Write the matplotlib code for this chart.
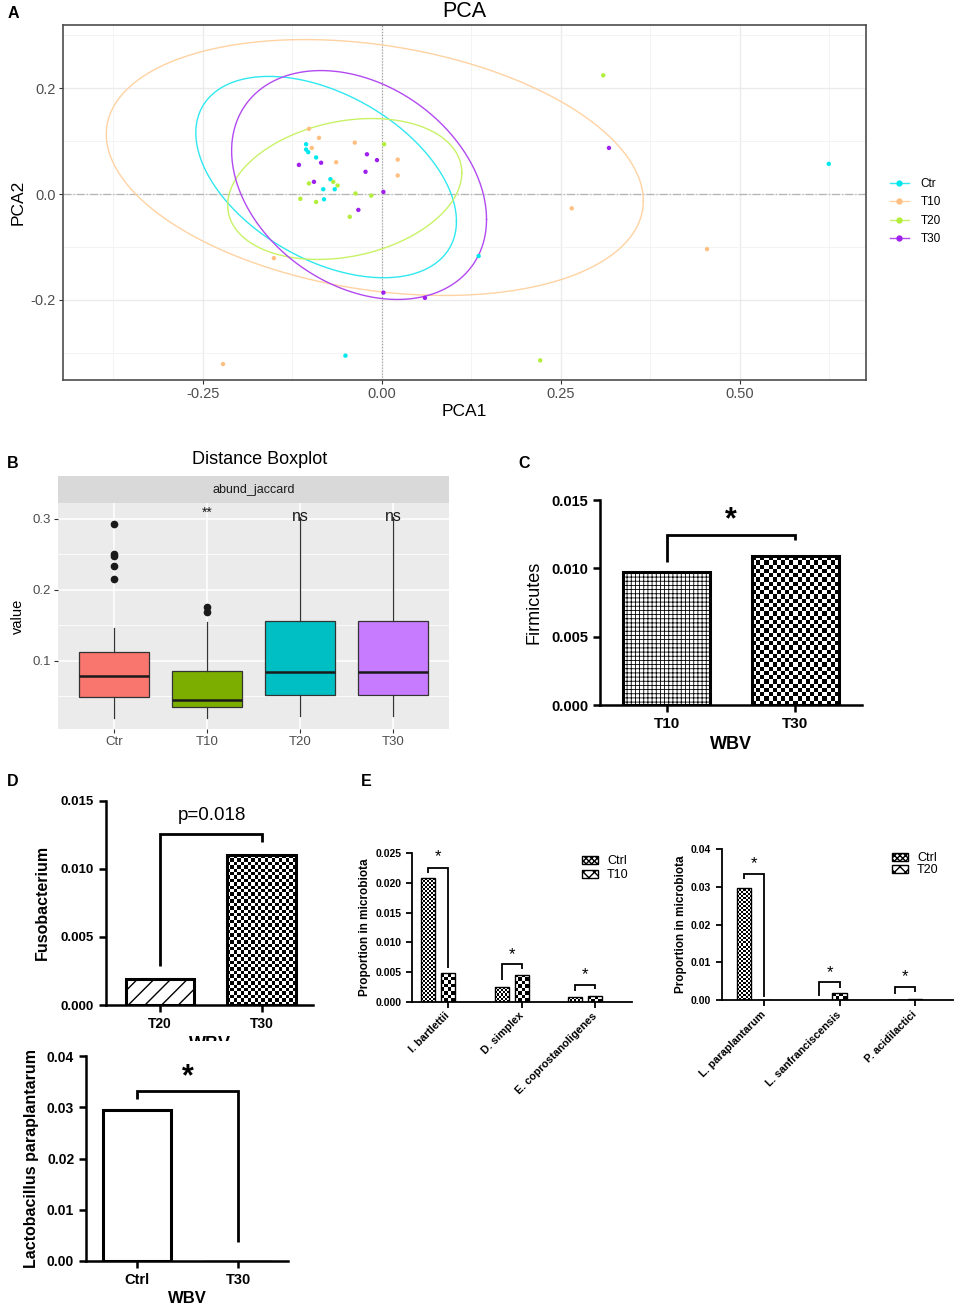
import numpy as np
import matplotlib
matplotlib.use("Agg")
import matplotlib.pyplot as plt
from matplotlib.patches import Patch, Rectangle
from matplotlib.lines import Line2D

plt.rcParams['font.family'] = ['Liberation Sans', 'DejaVu Sans']

# ---------------- data ----------------
# A: PCA scores
pca_groups = ['Ctr', 'T10', 'T20', 'T30']
ctr_x = [-0.106, -0.106, -0.103, -0.092, -0.072, -0.082, -0.066, -0.081, -0.051, 0.135, 0.624]
ctr_y = [0.094, 0.084, 0.079, 0.069, 0.028, 0.009, 0.009, -0.010, -0.305, -0.117, 0.057]
t10_x = [-0.102, -0.088, -0.098, -0.038, -0.064, 0.022, 0.022, -0.151, -0.222, 0.265, 0.454]
t10_y = [0.123, 0.106, 0.087, 0.097, 0.060, 0.065, 0.035, -0.121, -0.321, -0.027, -0.104]
t20_x = [0.003, -0.102, -0.068, -0.062, -0.114, -0.092, -0.037, -0.015, -0.045, 0.309, 0.221]
t20_y = [0.094, 0.020, 0.023, 0.016, -0.009, -0.015, 0.001, -0.003, -0.043, 0.224, -0.314]
t30_x = [-0.021, -0.007, -0.085, -0.116, -0.023, -0.095, 0.002, -0.033, 0.002, 0.060, 0.317]
t30_y = [0.075, 0.064, 0.059, 0.055, 0.042, 0.023, 0.004, -0.030, -0.186, -0.196, 0.087]
# ellipses: centre, half extent in x / y, correlation
ell_cx = [-0.078, -0.010, -0.052, -0.032]
ell_cy = [0.032, 0.050, 0.0095, 0.017]
ell_sx = [0.182, 0.375, 0.1635, 0.178]
ell_sy = [0.190, 0.2415, 0.133, 0.216]
ell_rho = [-0.44, -0.26, 0.23, -0.30]

# B: distance boxplot
box_cats = ['Ctr', 'T10', 'T20', 'T30']
box_q1 = [0.048, 0.034, 0.051, 0.051]
box_med = [0.078, 0.044, 0.084, 0.084]
box_q3 = [0.112, 0.086, 0.156, 0.156]
box_lo = [0.019, 0.019, 0.022, 0.022]
box_hi = [0.146, 0.155, 0.303, 0.303]
box_fliers = [[0.293, 0.251, 0.247, 0.233, 0.215], [0.175, 0.168], [], []]
box_sig = ['', '**', 'ns', 'ns']
box_sig_y = [0.0, 0.309, 0.303, 0.303]

# C: Firmicutes
c_groups = ['T10', 'T30']
c_vals = [0.00976, 0.0109]
c_br, c_lows, c_star = 0.01244, [0.0105, 0.0121], 0.0135

# D: Fusobacterium
d_groups = ['T20', 'T30']
d_vals = [0.0019, 0.01098]
d_br, d_lows, d_text = 0.01255, [0.0029, 0.0120], 0.01395

# bottom left: Lactobacillus paraplantarum
l_groups = ['Ctrl', 'T30']
l_vals = [0.0295, 0.00005]
l_br, l_lows, l_star = 0.0332, [0.0317, 0.0038], 0.0359

# E left
e1_species = ['I. bartlettii', 'D. simplex', 'E. coprostanoligenes']
e1_ctrl = [0.0208, 0.00247, 0.00074]
e1_t10 = [0.00488, 0.00455, 0.00096]
e1_br = [0.02245, 0.0063, 0.0028]
e1_lo_l = [0.0216, 0.00365, 0.00185]
e1_lo_r = [0.0056, 0.00545, 0.0021]
e1_star = [0.0244, 0.0079, 0.0045]

# E right
e2_species = ['L. paraplantarum', 'L. sanfranciscensis', 'P. acidilactici']
e2_ctrl = [0.0298, 0.00005, 0.00005]
e2_t20 = [0.0002, 0.0019, 0.0004]
e2_br = [0.0335, 0.00475, 0.0035]
e2_lo_l = [0.0322, 0.00114, 0.00167]
e2_lo_r = [0.0010, 0.0032, 0.00228]
e2_star = [0.0362, 0.0074, 0.0062]

# ---------------- helpers ----------------
W, H = 957, 1308
fig = plt.figure(figsize=(W / 100, H / 100), dpi=100)


def add_ax(l, t, r, b):
    return fig.add_axes([l / W, 1 - b / H, (r - l) / W, (b - t) / H])


def prism(ax, lw, tl=4):
    ax.spines[['top', 'right']].set_visible(False)
    ax.spines[['left', 'bottom']].set_linewidth(lw)
    ax.tick_params(width=lw, length=tl, direction='out')


def checker(ax, bar, cell):
    x0, y0 = bar.get_x(), bar.get_y()
    x1, y1 = x0 + bar.get_width(), y0 + bar.get_height()
    (px0, py0), (px1, py1) = ax.transData.transform([(x0, y0), (x1, y1)])
    nx = max(1, int(round(abs(px1 - px0) / cell)))
    ny = max(1, int(round(abs(py1 - py0) / cell)))
    board = np.indices((ny, nx)).sum(axis=0) % 2
    im = ax.imshow(board, cmap='gray', extent=(x0, x1, y0, y1), aspect='auto',
                   interpolation='nearest', zorder=1.5)
    im.set_clip_path(bar)


def bracket(ax, xl, xr, top, lo_l, lo_r, lw):
    ax.plot([xl, xl, xr, xr], [lo_l, top, top, lo_r], color='black', lw=lw,
            solid_joinstyle='miter', solid_capstyle='butt', clip_on=False, zorder=3)


def letter(x, y, s):
    fig.text(x / W, 1 - y / H, s, fontsize=11.5, fontweight='bold', ha='center', va='center')


# ---------------- A: PCA ----------------
axA = add_ax(63, 25, 866, 380)
axA.set_xlim(-0.4455, 0.676)
axA.set_ylim(-0.351, 0.319)
pt_cols = ['#00E8EE', '#FFBF80', '#B2EE3A', '#9F1FEE']
ell_cols = ['#30E8F0', '#FFD2A2', '#C8F266', '#B24AF0']
xs = [ctr_x, t10_x, t20_x, t30_x]
ys = [ctr_y, t10_y, t20_y, t30_y]
t = np.linspace(0, 2 * np.pi, 300)
for i in range(4):
    ex = ell_cx[i] + ell_sx[i] * np.cos(t)
    ey = ell_cy[i] + ell_sy[i] * (ell_rho[i] * np.cos(t) + np.sqrt(1 - ell_rho[i] ** 2) * np.sin(t))
    axA.plot(ex, ey, color=ell_cols[i], lw=1.0, zorder=2)
    axA.scatter(xs[i], ys[i], s=10, color=pt_cols[i], edgecolors='none', zorder=3)
axA.axvline(0, color='#9A9A9A', lw=0.8, ls=':', zorder=1)
axA.axhline(0, color='#B5B5B5', lw=0.9, ls='-.', zorder=1)
axA.set_xticks([-0.25, 0, 0.25, 0.5], labels=['-0.25', '0.00', '0.25', '0.50'])
axA.set_yticks([-0.2, 0, 0.2], labels=['-0.2', '0.0', '0.2'])
axA.set_xticks([-0.375, -0.125, 0.125, 0.375, 0.625], minor=True)
axA.set_yticks([-0.3, -0.1, 0.1, 0.3], minor=True)
axA.grid(which='major', color='#EBEBEB', lw=1.0)
axA.grid(which='minor', color='#F3F3F3', lw=0.7)
axA.set_axisbelow(True)
axA.tick_params(which='major', length=3, color='#333333', labelcolor='#4D4D4D', labelsize=10.5, pad=2)
axA.tick_params(which='minor', length=0)
for s in axA.spines.values():
    s.set_color('#4D4D4D')
    s.set_linewidth(1.2)
axA.set_xlabel('PCA1', fontsize=12.5, labelpad=2)
axA.set_ylabel('PCA2', fontsize=12.5, labelpad=4)
axA.set_title('PCA', fontsize=15.5, pad=6)
handles = [Line2D([], [], color=ell_cols[i], lw=1.0, marker='o', ms=3.5,
                  markerfacecolor=pt_cols[i], markeredgecolor=pt_cols[i], label=g)
           for i, g in enumerate(pca_groups)]
fig.legend(handles=handles, loc='center left', bbox_to_anchor=(890 / W, 1 - 211.5 / H),
           frameon=False, fontsize=8.5, handlelength=1.6, handletextpad=1.0,
           labelspacing=0.55, borderpad=0, borderaxespad=0)
letter(13, 13, 'A')

# ---------------- B: boxplot ----------------
axB = add_ax(58.3, 503.3, 449, 729.3)
axB.set_facecolor('#EBEBEB')
stats = [dict(label=box_cats[i], q1=box_q1[i], med=box_med[i], q3=box_q3[i],
              whislo=box_lo[i], whishi=box_hi[i], fliers=box_fliers[i]) for i in range(4)]
bp = axB.bxp(stats, positions=[1, 2, 3, 4], widths=0.75, patch_artist=True, showcaps=False,
             boxprops=dict(edgecolor='#333333', linewidth=0.9),
             medianprops=dict(color='#1A1A1A', linewidth=1.8),
             whiskerprops=dict(color='#333333', linewidth=0.9),
             flierprops=dict(marker='o', markerfacecolor='#1A1A1A', markeredgecolor='#1A1A1A', markersize=4.5))
for patch, c in zip(bp['boxes'], ['#F8766D', '#7CAE00', '#00BFC4', '#C77CFF']):
    patch.set_facecolor(c)
for i in range(4):
    if box_sig[i]:
        axB.text(i + 1, box_sig_y[i], box_sig[i], ha='center', va='center',
                 fontsize=10 if box_sig[i] == '**' else 11.5, color='#1A1A1A')
axB.set_xlim(0.4, 4.6)
axB.set_ylim(0.0031, 0.322)
axB.set_yticks([0.1, 0.2, 0.3], labels=['0.1', '0.2', '0.3'])
axB.set_yticks([0.05, 0.15, 0.25], minor=True)
axB.set_xticks([1, 2, 3, 4], labels=box_cats)
axB.grid(which='major', color='white', lw=1.1)
axB.grid(which='minor', axis='y', color='white', lw=0.55)
axB.set_axisbelow(True)
axB.tick_params(which='major', length=3, color='#333333', labelcolor='#4D4D4D', labelsize=9.5, pad=2)
axB.tick_params(which='minor', length=0)
for s in axB.spines.values():
    s.set_visible(False)
axB.set_ylabel('value', fontsize=10.5, labelpad=6)
strip = add_ax(58.3, 476, 449, 503.3)
strip.set_facecolor('#D9D9D9')
strip.set_xticks([])
strip.set_yticks([])
for s in strip.spines.values():
    s.set_visible(False)
strip.text(0.5, 0.5, 'abund_jaccard', transform=strip.transAxes, ha='center', va='center',
           fontsize=9, color='#1A1A1A')
fig.text(260 / W, 1 - 459 / H, 'Distance Boxplot', fontsize=13, ha='center', va='center')
letter(13, 463, 'B')

# ---------------- C: Firmicutes ----------------
axC = add_ax(600, 500, 861.7, 705)
axC.set_xlim(-0.52, 1.515)
axC.set_ylim(0, 0.015)
plt.rcParams['hatch.linewidth'] = 0.6
barsC = axC.bar(range(2), c_vals, width=0.675, facecolor='white', edgecolor='black',
                linewidth=2.2, zorder=2)
barsC[0].set_hatch('++++')
barsC[1].set_facecolor('none')
checker(axC, barsC[1], 4.2)
prism(axC, 1.8, 5)
axC.set_yticks([0, 0.005, 0.010, 0.015], labels=['0.000', '0.005', '0.010', '0.015'],
               fontweight='bold', fontsize=10.5)
axC.set_xticks(range(2), labels=c_groups, fontweight='bold', fontsize=11)
axC.set_ylabel('Firmicutes', fontsize=13, labelpad=6)
axC.set_xlabel('WBV', fontsize=13, fontweight='bold', labelpad=4)
bracket(axC, 0, 1, c_br, c_lows[0], c_lows[1], 2.0)
axC.text(0.5, c_star, '*', ha='center', va='center', fontsize=22, fontweight='bold')
letter(524, 463, 'C')

# ---------------- D: Fusobacterium ----------------
axD = add_ax(106, 800.7, 313, 1005)
axD.set_xlim(-0.531, 1.504)
axD.set_ylim(0, 0.015)
plt.rcParams['hatch.linewidth'] = 1.0
barsD = axD.bar(range(2), d_vals, width=0.675, facecolor='white', edgecolor='black',
                linewidth=2.2, zorder=2)
barsD[0].set_hatch('//')
barsD[1].set_facecolor('none')
checker(axD, barsD[1], 3.4)
prism(axD, 1.8, 5)
axD.set_yticks([0, 0.005, 0.010, 0.015], labels=['0.000', '0.005', '0.010', '0.015'],
               fontweight='bold', fontsize=9.5)
axD.set_xticks(range(2), labels=d_groups, fontweight='bold', fontsize=10)
axD.set_ylabel('Fusobacterium', fontsize=11.5, fontweight='bold', labelpad=8)
axD.set_xlabel('WBV', fontsize=13, fontweight='bold', labelpad=4)
bracket(axD, 0, 1, d_br, d_lows[0], d_lows[1], 2.0)
axD.text(0.51, d_text, 'p=0.018', ha='center', va='center', fontsize=13.5)
letter(13, 782, 'D')
fig.add_artist(Rectangle((140 / W, 1 - 1050 / H), 160 / W, 9 / H, transform=fig.transFigure,
                         facecolor='white', edgecolor='none', zorder=10))

# ---------------- Lactobacillus paraplantarum ----------------
axL = add_ax(86, 1056, 288.3, 1261)
axL.set_xlim(-0.507, 1.496)
axL.set_ylim(0, 0.04)
axL.bar(range(2), l_vals, width=0.67, facecolor='white', edgecolor='black',
        linewidth=[2.2, 1.0], zorder=2)
prism(axL, 1.8, 5)
axL.set_yticks([0, 0.01, 0.02, 0.03, 0.04], labels=['0.00', '0.01', '0.02', '0.03', '0.04'],
               fontweight='bold', fontsize=10)
axL.set_xticks(range(2), labels=l_groups, fontweight='bold', fontsize=10.5)
axL.set_ylabel('Lactobacillus paraplantarum', fontsize=11.5, fontweight='bold', labelpad=6)
axL.set_xlabel('WBV', fontsize=12, fontweight='bold', labelpad=3)
bracket(axL, 0, 1, l_br, l_lows[0], l_lows[1], 2.0)
axL.text(0.506, l_star, '*', ha='center', va='center', fontsize=22, fontweight='bold')

# ---------------- E ----------------
def panel_e(ax, ctrl, treat, species, br, lo_l, lo_r, star, off, ylim, yt, fmt, lab2, leg_xy, leg_sp):
    g = np.arange(len(species))
    ax.set_ylim(0, ylim)
    b1 = ax.bar(g - off, ctrl, 0.19, facecolor='none', edgecolor='black', linewidth=1.0, zorder=2)
    b2 = ax.bar(g + off, treat, 0.19, facecolor='none', edgecolor='black', linewidth=1.0, zorder=2)
    for b in b1:
        checker(ax, b, 2.0)
    for b in b2:
        checker(ax, b, 3.5)
    for i in range(len(species)):
        bracket(ax, i - off, i + off, br[i], lo_l[i], lo_r[i], 1.3)
        ax.text(i, star[i], '*', ha='center', va='center', fontsize=12)
    prism(ax, 1.3, 4)
    ax.set_yticks(yt, labels=[fmt.format(v) for v in yt], fontweight='bold', fontsize=7.5)
    ax.set_xticks(g + off, labels=species, rotation=45, ha='right', va='center',
                  rotation_mode='anchor', fontweight='bold', fontsize=7.8)
    ax.tick_params(axis='x', pad=5)
    ax.set_ylabel('Proportion in microbiota', fontsize=8.5, fontweight='bold', labelpad=3)
    plt.rcParams['hatch.linewidth'] = 1.0
    hnd = [Patch(facecolor='white', edgecolor='black', hatch='xxxxxx', label='Ctrl'),
           Patch(facecolor='white', edgecolor='black', hatch='xxx', label=lab2)]
    ax.legend(handles=hnd, loc='upper left', bbox_to_anchor=(leg_xy[0] / W, 1 - leg_xy[1] / H),
              bbox_transform=fig.transFigure, frameon=False, fontsize=9, handlelength=1.3,
              handleheight=0.6, handletextpad=0.7, labelspacing=leg_sp, borderpad=0, borderaxespad=0)


axE1 = add_ax(411.7, 853.3, 631.7, 1001.7)
axE1.set_xlim(-0.36, 2.63)
axE1.set_ylim(0, 0.025)
panel_e(axE1, e1_ctrl, e1_t10, e1_species, e1_br, e1_lo_l, e1_lo_r, e1_star, 0.136, 0.025,
        [0, 0.005, 0.010, 0.015, 0.020, 0.025], '{:.3f}', 'T10', (582, 855), 0.2)

axE2 = add_ax(721.7, 849, 953, 1000.3)
axE2.set_xlim(-0.428, 2.636)
axE2.set_ylim(0, 0.04)
panel_e(axE2, e2_ctrl, e2_t20, e2_species, e2_br, e2_lo_l, e2_lo_r, e2_star, 0.1325, 0.04,
        [0, 0.01, 0.02, 0.03, 0.04], '{:.2f}', 'T20', (892, 852), 0.0)
letter(366, 782, 'E')

fig.savefig('out.png', dpi=100)
